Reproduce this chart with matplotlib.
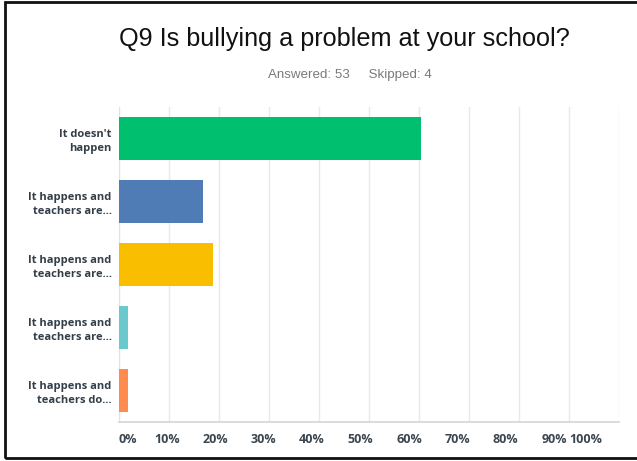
import matplotlib
matplotlib.use("Agg")
import matplotlib.pyplot as plt
from matplotlib.patches import Rectangle
from matplotlib.transforms import blended_transform_factory

# Survey answers (share of respondents, %)
categories = [
    "It doesn't\nhappen",
    "It happens and\nteachers are...",
    "It happens and\nteachers are...",
    "It happens and\nteachers are...",
    "It happens and\nteachers do...",
]
values = [60.38, 16.98, 18.87, 1.89, 1.89]
colors = ["#00BF6F", "#507CB6", "#F9BE00", "#6BC8CD", "#FF8B4F"]
tick_values = list(range(0, 101, 10))
tick_labels = [f"{v}%" for v in tick_values]

title = "Q9 Is bullying a problem at your school?"
subtitle = "Answered: 53     Skipped: 4"

W, H = 637, 461
fig = plt.figure(figsize=(W / 100, H / 100), dpi=100)
fig.patch.set_facecolor("white")

ax = fig.add_axes([118.5 / W, 1 - 422 / H, (619 - 118.5) / W, (422 - 107) / H])

ypos = list(range(len(categories)))
ax.barh(ypos, values, height=0.68, color=colors, zorder=3)
ax.set_ylim(len(categories) - 0.5, -0.5)
ax.set_xlim(0, 100)

ax.set_xticks(tick_values)
ax.set_xticklabels([])
ax.tick_params(axis="x", length=0)
ax.grid(axis="x", color="#E9E9E9", linewidth=1.0, zorder=0)

ax.set_yticks(ypos)
ax.set_yticklabels(categories, fontsize=8, fontweight="bold",
                   family=["Open Sans", "DejaVu Sans"], color="#333E48",
                   linespacing=1.4)
ax.tick_params(axis="y", length=0, pad=5)

for side in ("top", "right"):
    ax.spines[side].set_visible(False)
ax.spines["left"].set_color("#E2E2E2")
ax.spines["bottom"].set_color("#D5D5D5")
ax.spines["bottom"].set_linewidth(1.2)

# Percent labels under the axis, packed slightly tighter than the grid
trans = blended_transform_factory(ax.transData, fig.transFigure)
n = len(tick_values)
for i, (v, lab) in enumerate(zip(tick_values, tick_labels)):
    x = v * 0.967
    ha = "left" if i == 0 else ("right" if i == n - 1 else "center")
    ax.text(x, 1 - 439 / H, lab, transform=trans, ha=ha, va="center",
            fontsize=9, fontweight="bold", family=["Open Sans", "DejaVu Sans"],
            color="#3B4650", clip_on=False)

fig.text(344 / W, 1 - 39 / H, title, ha="center", va="center",
         fontsize=18.2, family=["Liberation Sans", "DejaVu Sans"], color="#111111")
fig.text(350 / W, 1 - 75 / H, subtitle, ha="center", va="center",
         fontsize=9.6, family=["Liberation Sans", "DejaVu Sans"], color="#7A7A7A")

# Frame around the whole panel
fig.add_artist(Rectangle((5 / W, 1 - 457.5 / H), (W + 10) / W, (457.5 - 2) / H,
                         transform=fig.transFigure, fill=False,
                         edgecolor="#111111", linewidth=2.0, clip_on=False))

fig.savefig("out.png", dpi=100, facecolor="white")
